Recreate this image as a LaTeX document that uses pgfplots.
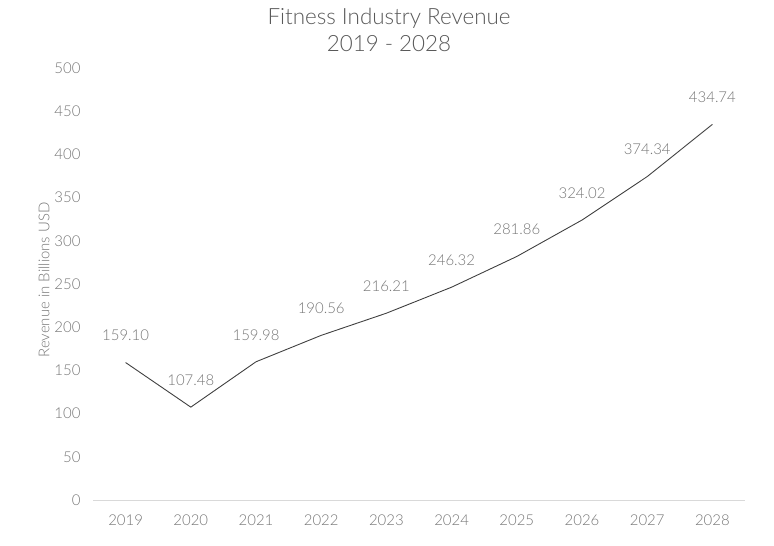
\documentclass[border=0pt]{standalone}
\usepackage{fontspec}
\setmainfont{Lato}[UprightFont={* Light}]
\usepackage{pgfplots}
\pgfplotsset{compat=1.18}
\usepackage{pgfplotstable}
\definecolor{tickgray}{HTML}{767676}
\definecolor{titlegray}{HTML}{595959}
\definecolor{linegray}{HTML}{404040}
\definecolor{basegray}{HTML}{D9D9D9}
\pgfplotstableread{
x y lab
0 159.10 159.10
1 107.48 107.48
2 159.98 159.98
3 190.56 190.56
4 216.21 216.21
5 246.32 246.32
6 281.86 281.86
7 324.02 324.02
8 374.34 374.34
9 434.74 434.74
}\revdata
\begin{document}
\begin{tikzpicture}
\useasboundingbox (-93bp,-46bp) rectangle (681bp,500bp);
\begin{axis}[
  at={(0,0)}, anchor=south west,
  scale only axis, width=652bp, height=432bp,
  xmin=-0.5, xmax=9.5, ymin=0, ymax=500,
  axis x line*=bottom, axis y line*=left,
  x axis line style={basegray, line width=0.8pt, -},
  y axis line style={draw=none},
  xtick={0,...,9},
  xticklabels={2019,2020,2021,2022,2023,2024,2025,2026,2027,2028},
  ytick={0,50,...,500},
  major tick length=0pt,
  /pgf/number format/assume math mode=true,
  ticklabel style={font=\fontsize{15}{17}\selectfont, text=tickgray},
  xticklabel style={yshift=-11bp},
  yticklabel style={xshift=-9bp},
  clip=false,
]
\addplot[linegray, line width=0.9pt, mark=none,
  nodes near coords={\pgfplotspointmeta},
  point meta=explicit symbolic,
  every node near coord/.style={font=\fontsize{15}{17}\selectfont, text=tickgray, anchor=center, yshift=27bp}
] table[x=x, y=y, meta=lab] {\revdata};
\end{axis}
\node[font=\fontsize{15}{17}\selectfont, text=tickgray, rotate=90] at (-49bp,220bp) {Revenue in Billions USD};
\node[font=\fontsize{22.5}{27}\selectfont, text=titlegray, align=center] at (296bp,470bp) {Fitness Industry Revenue\\2019 - 2028};
\end{tikzpicture}
\end{document}
